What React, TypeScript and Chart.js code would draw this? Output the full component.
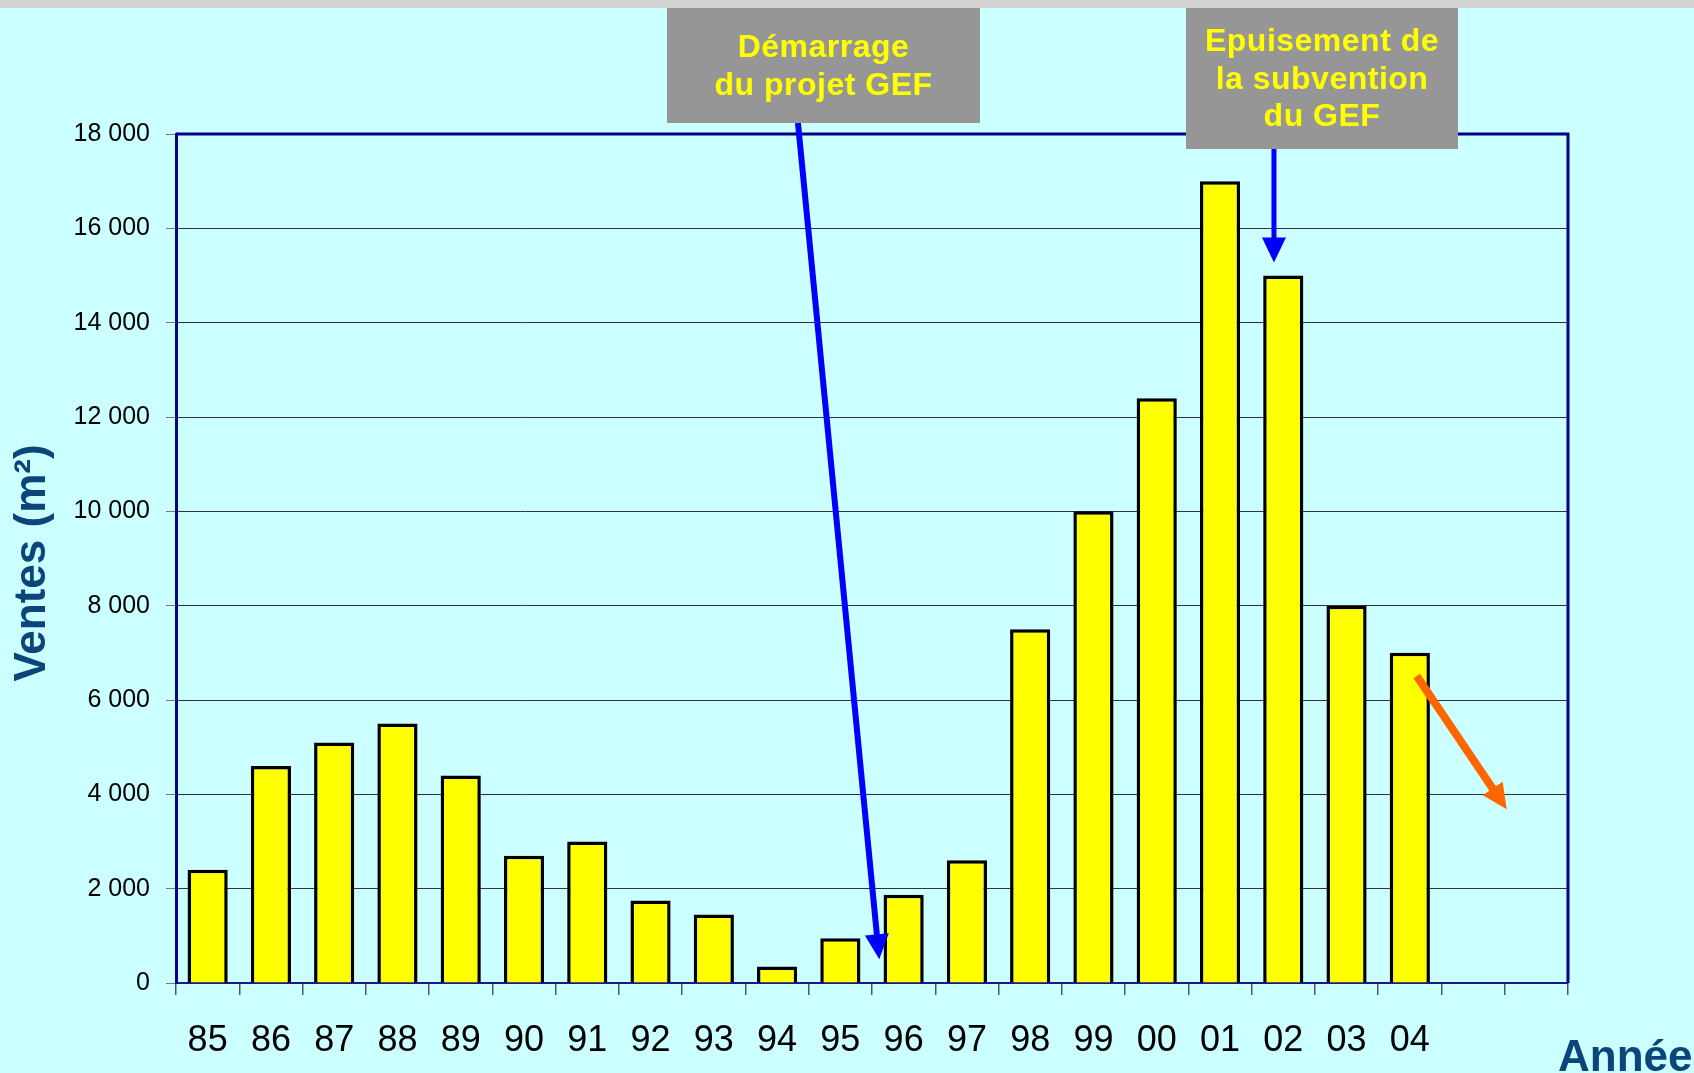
import React, { useEffect, useRef } from 'react';
import { Chart, registerables } from 'chart.js';

Chart.register(...registerables);

// ---------- data ----------
const years = ['85', '86', '87', '88', '89', '90', '91', '92', '93', '94', '95', '96', '97', '98', '99', '00', '01', '02', '03', '04', '', ''];
const sales = [2400, 4600, 5100, 5500, 4400, 2700, 3000, 1750, 1450, 350, 950, 1870, 2600, 7500, 10000, 12400, 17000, 15000, 8000, 7000, null, null];
const yMin = 0;
const yMax = 18000;
const yStep = 2000;
const yTitle = 'Ventes (m²)';
const xTitle = 'Année';

// annotation arrows, in data space: [category position, value]
const arrowStartGEF = { from: [9.33, 18233], to: [10.615, 502], color: '#0000FF', width: 6 };
const arrowEndGEF = { from: [16.853, 17703], to: [16.853, 15276], color: '#0000FF', width: 5 };
const arrowTrend = { from: [19.109, 6509], to: [20.531, 3683], color: '#FF6600', width: 8 };
const arrows = [arrowStartGEF, arrowEndGEF, arrowTrend];

// annotation boxes
const boxStartLines = ['Démarrage', 'du projet GEF'];
const boxEndLines = ['Epuisement de', 'la subvention', 'du GEF'];

const FONT = "'Liberation Sans', Arial, sans-serif";

function fmt(v: number): string {
  if (v >= 1000) {
    const th = Math.floor(v / 1000);
    const rest = String(v % 1000).padStart(3, '0');
    return `${th} ${rest}`;
  }
  return String(v);
}

function drawArrow(ctx: CanvasRenderingContext2D, x1: number, y1: number, x2: number, y2: number, color: string, w: number) {
  const ang = Math.atan2(y2 - y1, x2 - x1);
  const headLen = 25;
  const headHalf = 12;
  const bx = x2 - headLen * Math.cos(ang);
  const by = y2 - headLen * Math.sin(ang);
  ctx.save();
  ctx.strokeStyle = color;
  ctx.fillStyle = color;
  ctx.lineWidth = w;
  ctx.lineCap = 'butt';
  ctx.beginPath();
  ctx.moveTo(x1, y1);
  ctx.lineTo(bx + Math.cos(ang) * 2, by + Math.sin(ang) * 2);
  ctx.stroke();
  ctx.beginPath();
  ctx.moveTo(x2, y2);
  ctx.lineTo(bx + headHalf * Math.sin(ang), by - headHalf * Math.cos(ang));
  ctx.lineTo(bx - headHalf * Math.sin(ang), by + headHalf * Math.cos(ang));
  ctx.closePath();
  ctx.fill();
  ctx.restore();
}

function drawBox(ctx: CanvasRenderingContext2D, x: number, y: number, w: number, h: number, lines: string[], firstBaseline: number, lineGap: number) {
  ctx.save();
  ctx.fillStyle = '#969696';
  ctx.fillRect(x, y, w, h);
  ctx.fillStyle = '#FFFF00';
  ctx.font = `bold 32px ${FONT}`;
  (ctx as any).letterSpacing = '0.5px';
  ctx.textAlign = 'center';
  ctx.textBaseline = 'alphabetic';
  lines.forEach((t, i) => {
    ctx.fillText(t, x + w / 2, firstBaseline + i * lineGap);
  });
  ctx.restore();
}

const decorPlugin = {
  id: 'decor',
  beforeDraw(chart: any) {
    const ctx = chart.ctx as CanvasRenderingContext2D;
    ctx.save();
    ctx.fillStyle = '#CCFFFF';
    ctx.fillRect(0, 0, chart.width, chart.height);
    ctx.fillStyle = '#D3D3D3';
    ctx.fillRect(0, 0, chart.width, 8);
    ctx.restore();
  },
  afterDraw(chart: any) {
    const ctx = chart.ctx as CanvasRenderingContext2D;
    const a = chart.chartArea;
    const xs = chart.scales.x;
    const ys = chart.scales.y;

    // top & right frame
    ctx.save();
    ctx.strokeStyle = '#000080';
    ctx.lineWidth = 3;
    ctx.beginPath();
    ctx.moveTo(a.left, a.top);
    ctx.lineTo(a.right, a.top);
    ctx.lineTo(a.right, a.bottom);
    ctx.stroke();
    ctx.restore();

    // arrows
    arrows.forEach((ar) => {
      drawArrow(
        ctx,
        xs.getPixelForValue(ar.from[0]),
        ys.getPixelForValue(ar.from[1]),
        xs.getPixelForValue(ar.to[0]),
        ys.getPixelForValue(ar.to[1]),
        ar.color,
        ar.width
      );
    });

    // boxes
    drawBox(ctx, 667, 8, 313, 115, boxStartLines, 57, 38);
    drawBox(ctx, 1186, 8, 272, 141, boxEndLines, 51, 37.5);

    // axis titles
    ctx.save();
    ctx.fillStyle = '#0B4579';
    ctx.font = `bold 44px ${FONT}`;
    ctx.textBaseline = 'alphabetic';
    ctx.translate(45, 563);
    ctx.rotate(-Math.PI / 2);
    ctx.textAlign = 'center';
    ctx.fillText(yTitle, 0, 0);
    ctx.restore();

    ctx.save();
    ctx.fillStyle = '#0B4579';
    ctx.font = `bold 44px ${FONT}`;
    ctx.textBaseline = 'alphabetic';
    ctx.textAlign = 'left';
    ctx.fillText(xTitle, 1558, 1071);
    ctx.restore();
  },
};

export default function App() {
  const ref = useRef<HTMLCanvasElement | null>(null);

  useEffect(() => {
    if (!ref.current) return;
    const chart = new Chart(ref.current, {
      type: 'bar',
      data: {
        labels: years,
        datasets: [
          {
            data: sales,
            backgroundColor: '#FFFF00',
            borderColor: '#000000',
            borderWidth: 3.5,
            categoryPercentage: 0.635,
            barPercentage: 1,
          },
        ],
      },
      options: {
        responsive: false,
        animation: false,
        layout: { padding: { left: 0, top: 134, right: 126, bottom: 0 } },
        plugins: {
          legend: { display: false },
          tooltip: { enabled: false },
        },
        scales: {
          x: {
            offset: true,
            grid: {
              offset: true,
              drawOnChartArea: false,
              drawTicks: true,
              tickLength: 12,
              color: '#555555',
              lineWidth: 1.5,
            },
            border: { display: true, color: '#1A1A80', width: 2 },
            ticks: {
              font: { family: FONT, size: 36 },
              color: '#000000',
              padding: 24,
              maxRotation: 0,
              autoSkip: false,
            },
            afterFit: (s: any) => {
              s.height = 90;
            },
          },
          y: {
            min: yMin,
            max: yMax,
            ticks: {
              stepSize: yStep,
              callback: (v: any) => fmt(Number(v)),
              font: { family: FONT, size: 25 },
              color: '#000000',
              padding: 16,
            },
            grid: {
              color: '#333333',
              lineWidth: 1,
              tickLength: 10,
              tickColor: '#777777',
            },
            border: { display: true, color: '#000080', width: 3 },
            afterFit: (s: any) => {
              s.width = 176;
            },
          },
        },
      },
      plugins: [decorPlugin],
    } as any);
    return () => chart.destroy();
  }, []);

  return (
    <div style={{ position: 'fixed', left: 0, top: 0, width: 1694, height: 1073 }}>
      <canvas ref={ref} width={1694} height={1073} style={{ display: 'block', width: 1694, height: 1073 }} />
    </div>
  );
}
